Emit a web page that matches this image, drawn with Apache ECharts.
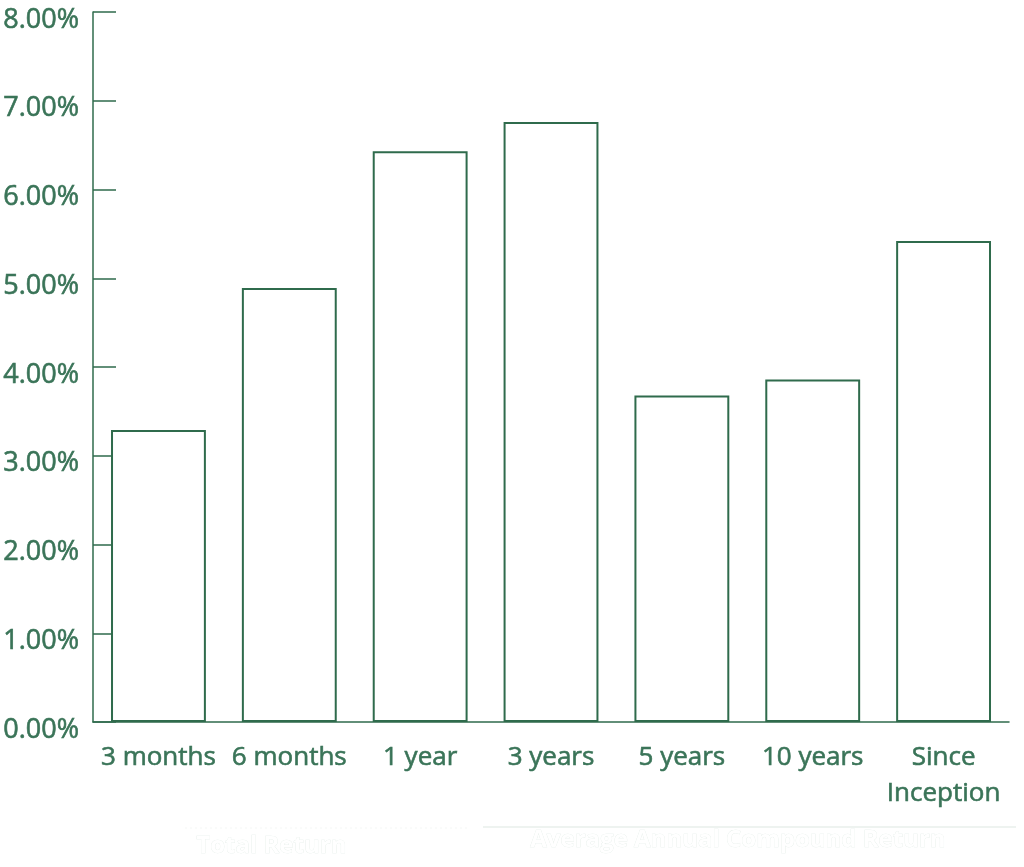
<!DOCTYPE html>
<html>
<head>
<meta charset="utf-8">
<script src="https://cdn.jsdelivr.net/npm/echarts@6/dist/echarts.min.js"></script>
<style>
html,body{margin:0;padding:0;background:#fff;}
#chart{width:1024px;height:867px;}
</style>
</head>
<body>
<div id="chart"></div>
<script>
const categories = ['3 months', '6 months', '1 year', '3 years', '5 years', '10 years', 'Since\nInception'];
const returns = [3.29, 4.89, 6.43, 6.76, 3.68, 3.86, 5.42];
const groupLabels = ['Total Return', 'Average Annual Compound Return'];

const green = '#2f6b4c';
const textGreen = '#3a7458';
const font = 'Open Sans';

const chart = echarts.init(document.getElementById('chart'));
chart.setOption({
  animation: false,
  backgroundColor: '#fff',
  grid: { left: 92, right: 15, top: 12, bottom: 145 },
  xAxis: {
    type: 'category',
    data: categories,
    axisLine: { lineStyle: { color: green, width: 1.5 } },
    axisTick: { inside: true, length: 16, lineStyle: { color: green, width: 1.5 } },
    axisLabel: {
      color: textGreen, fontFamily: font, fontSize: 26, margin: 18,
      lineHeight: 36, interval: 0,
      textBorderColor: textGreen, textBorderWidth: 0.6
    }
  },
  yAxis: {
    type: 'value',
    min: 0, max: 8, interval: 1,
    splitLine: { show: false },
    axisLine: { show: true, lineStyle: { color: green, width: 1.5 } },
    axisTick: { show: true, inside: true, length: 23, lineStyle: { color: green, width: 1.5 } },
    axisLabel: {
      color: textGreen, fontFamily: font, fontSize: 27, margin: 14,
      verticalAlign: 'top', lineHeight: 16,
      textBorderColor: textGreen, textBorderWidth: 0.6,
      formatter: v => v.toFixed(2) + '%'
    }
  },
  series: [{
    type: 'bar',
    data: returns,
    barWidth: '72.5%',
    itemStyle: { color: '#fff', borderColor: green, borderWidth: 2 }
  }],
  graphic: [
    { type: 'line', shape: { x1: 483, y1: 827, x2: 1016, y2: 827 },
      style: { stroke: '#e8efeb', lineWidth: 1.5 } },
    { type: 'line', shape: { x1: 185, y1: 828, x2: 470, y2: 828 },
      style: { stroke: '#f4f7f5', lineWidth: 1, lineDash: [2, 3] } },
    { type: 'text', left: 196, top: 834,
      style: { text: groupLabels[0], fill: '#fff', stroke: '#e3ece7', lineWidth: 0.6,
               font: 'bold 24px "Open Sans"' } },
    { type: 'text', left: 530, top: 828,
      style: { text: groupLabels[1], fill: '#fff', stroke: '#e3ece7', lineWidth: 0.6,
               font: 'bold 24px "Open Sans"' } }
  ]
});
</script>
</body>
</html>
